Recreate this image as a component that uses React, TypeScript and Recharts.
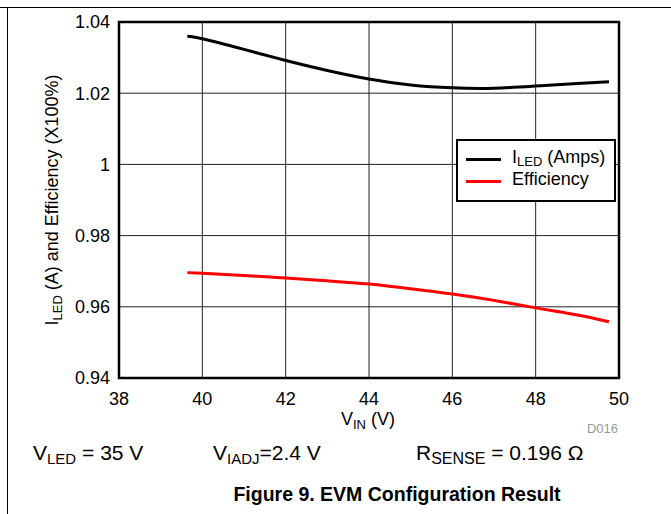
import React from 'react';
import { LineChart, Line, XAxis, YAxis, CartesianGrid, ReferenceArea } from 'recharts';

const vin = [39.64, 40, 41, 42, 43, 44, 45, 46, 47, 48, 49, 49.76];
const iled = [1.036, 1.0353, 1.0323, 1.0292, 1.0264, 1.024, 1.0223, 1.0215, 1.0214, 1.022, 1.0227, 1.0232];
const efficiency = [0.9696, 0.9694, 0.9688, 0.9681, 0.9673, 0.9664, 0.9651, 0.9636, 0.9618, 0.9597, 0.9577, 0.9558];
const xTicks = [38, 40, 42, 44, 46, 48, 50];
const yTicks = [0.94, 0.96, 0.98, 1, 1.02, 1.04];
const yTickLabels = ['0.94', '0.96', '0.98', '1', '1.02', '1.04'];

const data = vin.map((v, i) => ({ vin: v, iled: iled[i], eff: efficiency[i] }));

const FONT = '"Liberation Sans", Arial, Helvetica, sans-serif';

const LegendBox = () => (
  <div
    style={{
      position: 'absolute',
      left: 456,
      top: 139,
      width: 160,
      height: 63,
      boxSizing: 'border-box',
      border: '2.5px solid #000',
      background: '#fff',
      fontFamily: FONT,
      fontSize: 18,
      color: '#000',
    }}
  >
    <div style={{ position: 'absolute', left: 8, top: 17, width: 35, height: 3, background: '#000' }} />
    <div style={{ position: 'absolute', left: 54, top: 7, whiteSpace: 'nowrap', lineHeight: '18px' }}>
      I<span style={{ fontSize: 13, position: 'relative', top: 3 }}>LED</span> (Amps)
    </div>
    <div style={{ position: 'absolute', left: 8, top: 39, width: 35, height: 3, background: '#f00' }} />
    <div style={{ position: 'absolute', left: 54, top: 29, whiteSpace: 'nowrap', lineHeight: '18px' }}>Efficiency</div>
  </div>
);

export default function App() {
  return (
    <div style={{ position: 'absolute', left: 0, top: 0, width: 671, height: 514, background: '#fff', fontFamily: FONT }}>
      <div style={{ position: 'absolute', left: 0, top: 7, width: 671, height: 1, background: '#000' }} />
      <div style={{ position: 'absolute', left: 7, top: 7, width: 1, height: 507, background: '#000' }} />
      <LineChart
        width={671}
        height={514}
        data={data}
        margin={{ top: 22, right: 52, bottom: 106, left: 59 }}
        style={{ position: 'absolute', left: 0, top: 0 }}
      >
        <CartesianGrid stroke="#222" strokeWidth={1} />
        <XAxis
          dataKey="vin"
          type="number"
          domain={[38, 50]}
          ticks={xTicks}
          tickLine={false}
          axisLine={false}
          tickSize={0}
          tickMargin={14}
          height={30}
          tick={{ fill: '#000', fontSize: 18, fontFamily: FONT }}
        />
        <YAxis
          type="number"
          domain={[0.94, 1.04]}
          ticks={yTicks}
          tickFormatter={(v: number) => yTickLabels[yTicks.findIndex((t) => Math.abs(t - v) < 1e-9)] ?? String(v)}
          tickLine={false}
          axisLine={false}
          tickSize={0}
          tickMargin={9}
          width={60}
          tick={{ fill: '#000', fontSize: 18, fontFamily: FONT }}
        />
        <Line type="natural" dataKey="iled" name="ILED (Amps)" stroke="#000" strokeWidth={3} dot={false} isAnimationActive={false} />
        <Line type="natural" dataKey="eff" name="Efficiency" stroke="#f00" strokeWidth={3} dot={false} isAnimationActive={false} />
        <ReferenceArea x1={38} x2={50} y1={0.94} y2={1.04} fill="none" stroke="#000" strokeWidth={2.5} ifOverflow="visible" />
      </LineChart>
      <LegendBox />
      <svg width={671} height={514} style={{ position: 'absolute', left: 0, top: 0, pointerEvents: 'none' }} fontFamily={FONT}>
        <text transform="translate(58,200) rotate(-90)" textAnchor="middle" fontSize={18} fill="#000">
          I<tspan fontSize={13} dy={4}>LED</tspan>
          <tspan dy={-4}> (A) and Efficiency (X100%)</tspan>
        </text>
        <text x={368} y={425} textAnchor="middle" fontSize={18} fill="#000">
          V<tspan fontSize={13} dy={4}>IN</tspan>
          <tspan dy={-4}> (V)</tspan>
        </text>
        <text x={618} y={433} textAnchor="end" fontSize={13} fill="#999">D016</text>
        <text x={33} y={460} fontSize={21} fill="#000">
          V<tspan fontSize={15} dy={4}>LED</tspan>
          <tspan dy={-4}> = 35 V</tspan>
        </text>
        <text x={213} y={460} fontSize={21} fill="#000">
          V<tspan fontSize={15} dy={4}>IADJ</tspan>
          <tspan dy={-4}>=2.4 V</tspan>
        </text>
        <text x={416} y={460} fontSize={21} fill="#000">
          R<tspan fontSize={16} dy={4}>SENSE</tspan>
          <tspan dy={-4}> = 0.196 Ω</tspan>
        </text>
        <text x={397} y={501} textAnchor="middle" fontSize={19.5} fontWeight="bold" fill="#000">
          Figure 9. EVM Configuration Result
        </text>
      </svg>
    </div>
  );
}
